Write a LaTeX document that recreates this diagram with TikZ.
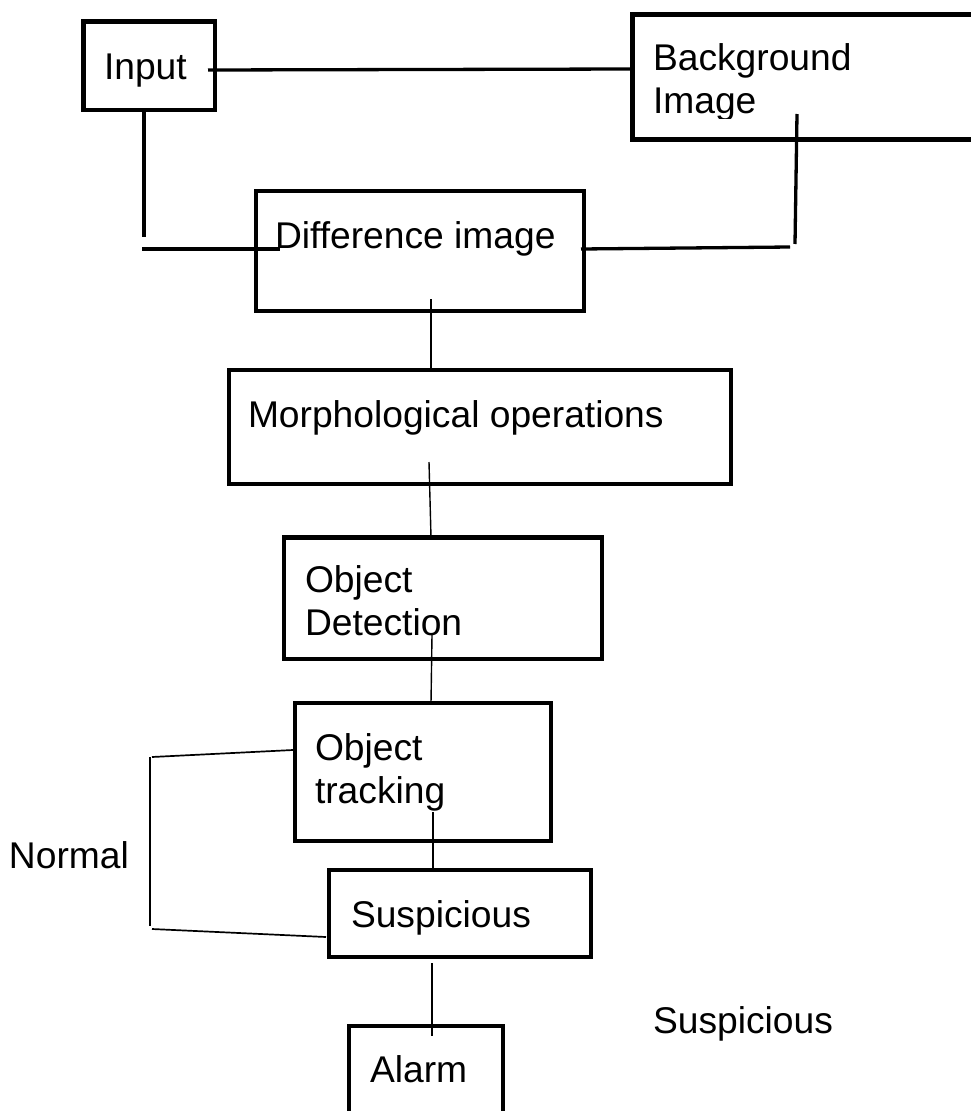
\documentclass[tikz,border=0pt]{standalone}
\usepackage{fontspec}
\setmainfont{Liberation Sans}
\usetikzlibrary{calc}
\begin{document}
\begin{tikzpicture}[x=1pt,y=-1pt,
  box/.style={draw, line width=4.5pt, rectangle, inner sep=0pt, outer sep=0pt},
  lbl/.style={anchor=base west, inner sep=0pt, outer sep=0pt, font=\fontsize{37.2}{43}\selectfont, align=left},
  heavy/.style={line width=3.3pt},
  light/.style={line width=1.4pt},
  brack/.style={line width=1.7pt}]
\clip (0,0) rectangle (971,1111);
\fill[white] (0,0) rectangle (971,1111);
% boxes
\node[box, minimum width=131.5pt, minimum height=88.5pt] (in) at (149.25,65.75) {};
\node[box, minimum width=400pt, minimum height=125pt] (bg) at (832.5,77) {};
\node[box, minimum width=328pt, minimum height=120pt] (diff) at (420,251) {};
\node[box, minimum width=502pt, minimum height=114pt] (morph) at (480,427) {};
\node[box, minimum width=318pt, minimum height=121.5pt] (det) at (443,598) {};
\node[box, minimum width=256pt, minimum height=138pt] (trk) at (423,772) {};
\node[box, minimum width=262pt, minimum height=87pt] (sus) at (460,913.5) {};
\node[box, minimum width=154pt, minimum height=124pt] (alarm) at (426,1088) {};
% texts (base anchor = baseline of the last line)
\node[lbl] (tin) at (104,79) {Input};
\begin{scope}
\clip (640,0) rectangle (960,118);
\node[lbl] (tbg) at (653,113) {Background\\Image};
\end{scope}
\node[lbl] (tdiff) at (275,248) {Difference image};
\node[lbl] (tmorph) at (248,427) {Morphological operations};
\node[lbl] (tdet) at (305,635) {Object\\Detection};
\node[lbl] (ttrk) at (315,803) {Object\\tracking};
\node[lbl] (tsus) at (351,927) {Suspicious};
\node[lbl] (talarm) at (370,1082) {Alarm};
\node[lbl] (tnormal) at (9,868) {Normal};
\node[lbl] (tsus2) at (653,1033) {Suspicious};
% connector end points
\coordinate (a1) at (208,70);
\coordinate (a2) at (144,110);
\coordinate (a3) at (144,237);
\coordinate (a4) at (142,249);
\coordinate (a5) at (280,249);
\coordinate (b1) at (581,249);
\coordinate (b2) at (790,247);
\coordinate (b3) at (797,114);
\coordinate (b4) at (795,244);
\coordinate (c1) at (431,299);
\coordinate (c2) at (431,370);
\coordinate (d1) at (429,462);
\coordinate (d2) at (431,537);
\coordinate (e1) at (432,635);
\coordinate (e2) at (431,703);
\coordinate (f1) at (433,812);
\coordinate (f2) at (433,870);
\coordinate (g1) at (432,963);
\coordinate (g2) at (432,1036);
\coordinate (n1) at (293,750);
\coordinate (n2) at (152,757);
\coordinate (n3) at (150,757);
\coordinate (n4) at (150,926);
\coordinate (n5) at (152,929);
\coordinate (n6) at (326,937);
% connectors
\draw[heavy] (a1) -- (bg.west |- 0,69);
\draw[heavy] (a2) -- (a3);
\draw[heavy] (a4) -- (a5);
\draw[heavy] (b1) -- (b2);
\draw[heavy] (b3) -- (b4);
\draw[light] (c1) -- (c2);
\draw[light] (d1) -- (d2);
\draw[light] (e1) -- (e2);
\draw[light] (f1) -- (f2);
\draw[light] (g1) -- (g2);
\draw[brack] (n1) -- (n2);
\draw[brack] (n3) -- (n4);
\draw[brack] (n5) -- (n6);
\end{tikzpicture}
\end{document}
